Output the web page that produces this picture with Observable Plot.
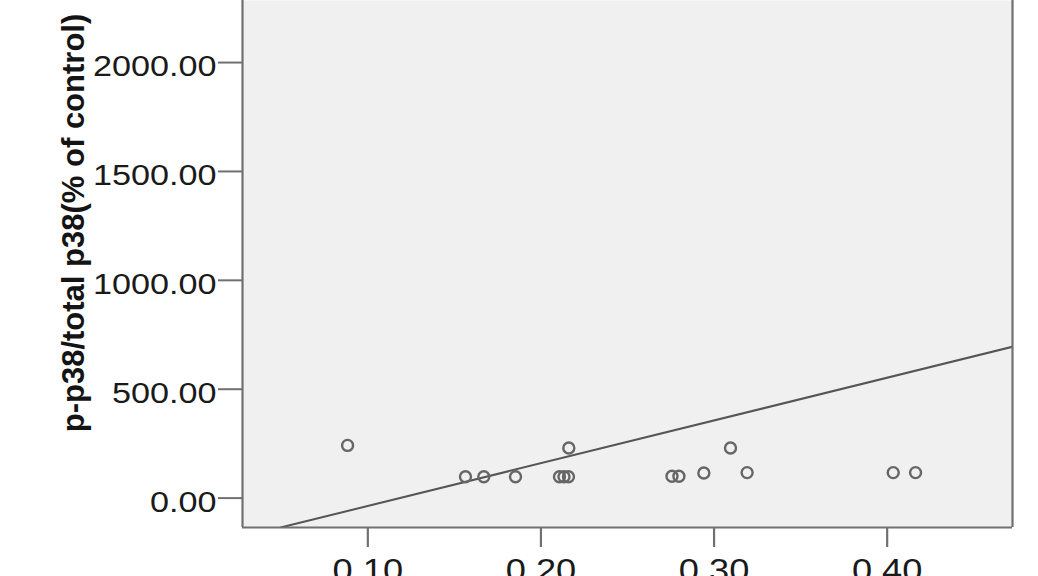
<!DOCTYPE html>
<html>
<head>
<meta charset="utf-8">
<script src="https://cdn.jsdelivr.net/npm/d3@7"></script>
<script src="https://cdn.jsdelivr.net/npm/@observablehq/plot@0.6"></script>
<style>
  html, body { margin: 0; padding: 0; background: #ffffff; }
  #chart svg { display: block; }
</style>
</head>
<body>
<div id="chart"></div>
<script>
// Data
const ratioX = [0.0883, 0.1564, 0.1670, 0.1853, 0.2107, 0.2133, 0.2159, 0.2161, 0.2757, 0.2797, 0.2941, 0.3095, 0.3191, 0.4035, 0.4164];
const pp38 = [242, 98, 98, 98, 98, 98, 98, 230, 100, 100, 115, 230, 117, 117, 117];

// Fit line end points (as drawn in the reference)
const fitX = [0.0496, 0.4724];
const fitY = [-135, 695];

// Axes
const xDomain = [0.0276, 0.4724];
const yDomain = [-135, 2285];
const xTicks = [0.10, 0.20, 0.30, 0.40];
const yTicks = [0, 500, 1000, 1500, 2000];
const yLabel = "p-p38/total p38(% of control)";

const points = ratioX.map((x, i) => ({x, y: pp38[i]}));
const fitLine = fitX.map((x, i) => ({x, y: fitY[i]}));

const axisColor = "#707070";

const chart = Plot.plot({
  width: 1038,
  height: 576,
  marginLeft: 242,
  marginRight: 26,
  marginTop: 0,
  marginBottom: 49,
  style: {fontFamily: "'Liberation Sans', Arial, sans-serif", background: "#ffffff", overflow: "hidden"},
  x: {domain: xDomain},
  y: {domain: yDomain},
  marks: [
    Plot.frame({fill: "#f0f0f0", stroke: null}),
    Plot.line(fitLine, {x: "x", y: "y", stroke: "#555555", strokeWidth: 2, clip: true}),
    Plot.dot(points, {x: "x", y: "y", r: 5.5, stroke: "#666666", strokeWidth: 2.4, fill: "none"}),
    Plot.ruleX([xDomain[0], xDomain[1]], {stroke: axisColor, strokeWidth: 2.2}),
    Plot.ruleY([yDomain[0]], {stroke: axisColor, strokeWidth: 2.2}),
    // y tick lines
    Plot.axisY({ticks: yTicks, tickFormat: () => "", tickSize: 24, label: null, stroke: axisColor, strokeWidth: 2}),
    // y tick labels (sit slightly below their ticks in the reference)
    Plot.axisY({ticks: yTicks, tickFormat: ".2f", tickSize: 0, tickPadding: 26, fontSize: 30, label: null, fill: "#1a1a1a", dy: 4}),
    Plot.axisX({ticks: xTicks, tickFormat: ".2f", tickSize: 20, tickPadding: 11, fontSize: 31, label: null, stroke: axisColor, strokeWidth: 2.2, fill: "#1a1a1a"}),
    Plot.text([yLabel], {frameAnchor: "left", textAnchor: "middle", lineAnchor: "middle", rotate: -90, dx: -168, dy: -41, fontSize: 31, fontWeight: "bold", fill: "#141414"})
  ]
});

document.getElementById("chart").appendChild(chart);

// Tick labels in the reference are slightly stretched horizontally
function stretch(selector, sx) {
  chart.querySelectorAll(selector).forEach((el) => {
    let t = el.getAttribute("transform") || "";
    const x = el.getAttribute("x");
    if (x !== null && x !== "" && !isNaN(+x)) {
      t = `${t} translate(${+x},0)`;
      el.removeAttribute("x");
    }
    el.setAttribute("transform", `${t} scale(${sx},1)`);
  });
}
stretch('g[aria-label="y-axis tick label"] text', 1.14);
stretch('g[aria-label="x-axis tick label"] text', 1.17);
</script>
</body>
</html>
